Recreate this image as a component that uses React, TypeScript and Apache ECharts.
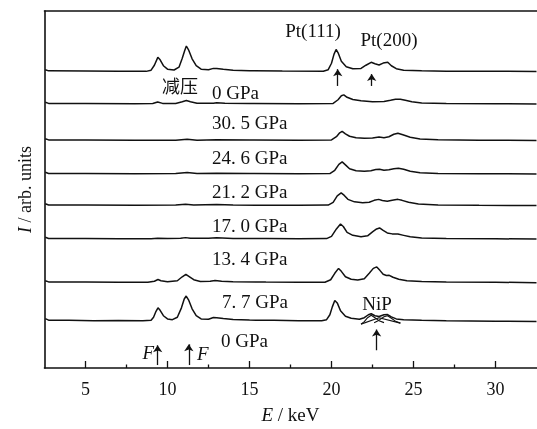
import React, { useEffect, useRef } from "react";
import * as echarts from "echarts";

// Energy (keV) axis ticks
const xTickValues = [5, 10, 15, 20, 25, 30];
const xMinorTickValues = [7.5, 12.5, 17.5, 22.5, 27.5];

// Vertical stacking offsets (arb. units) for each spectrum, bottom to top
const spectrumNames = ["0 GPa", "7.7 GPa", "13.4 GPa", "17.0 GPa", "21.2 GPa", "24.6 GPa", "30.5 GPa", "减压 0 GPa"];
const baselineOffsets = [4.8, 8.7, 13.1, 16.5, 19.7, 23.1, 26.8, 30.1];

// Spectra: [energy keV, intensity above baseline]
const spec0GPa = [
  [2.55, 0.2], [2.75, 0.05], [4, 0.05], [5.5, 0.0], [7, 0.02], [8.5, -0.02], [9.0, 0.05], [9.15, 0.35], [9.3, 0.95],
  [9.42, 1.3], [9.55, 1.05], [9.75, 0.5], [10.0, 0.18], [10.3, 0.1], [10.6, 0.35], [10.85, 1.3], [11.02, 2.2],
  [11.14, 2.5], [11.3, 2.05], [11.5, 1.2], [11.75, 0.5], [12.05, 0.18], [12.5, 0.15], [12.8, 0.32], [13.0, 0.3],
  [13.4, 0.22], [14, 0.12], [15, 0.06], [16.5, 0.03], [18, 0], [19.4, 0.0], [19.7, 0.1], [19.9, 0.6], [20.05, 1.4],
  [20.2, 2.05], [20.35, 1.8], [20.55, 1.0], [20.85, 0.45], [21.2, 0.25], [21.7, 0.15], [22.0, 0.3], [22.25, 0.6],
  [22.42, 0.7], [22.65, 0.5], [22.9, 0.42], [23.2, 0.6], [23.42, 0.62], [23.65, 0.38], [23.95, 0.18], [24.4, 0.1],
  [25.5, 0.05], [27, 0.0], [30, -0.05], [32.5, -0.08],
];
const spec7p7GPa = [
  [2.55, 0.15], [2.75, 0.03], [5, 0.02], [7, 0], [8.8, 0], [9.2, 0.1], [9.42, 0.27], [9.6, 0.15], [10, 0.05],
  [10.6, 0.15], [10.9, 0.55], [11.12, 0.8], [11.3, 0.6], [11.6, 0.25], [12, 0.08], [12.6, 0.1], [12.9, 0.18],
  [13.3, 0.1], [14, 0.05], [16, 0.02], [18, 0], [19.6, 0], [19.95, 0.25], [20.2, 0.9], [20.43, 1.4], [20.6, 1.1],
  [20.85, 0.55], [21.2, 0.3], [21.6, 0.22], [22.0, 0.35], [22.3, 0.9], [22.55, 1.4], [22.76, 1.55], [22.95, 1.2],
  [23.15, 0.8], [23.35, 0.68], [23.52, 0.7], [23.75, 0.5], [24.1, 0.3], [24.6, 0.15], [25.5, 0.06], [27, 0.02],
  [30, 0], [32.5, -0.05],
];
const spec13p4GPa = [
  [2.55, 0.15], [2.75, 0.03], [5, 0.02], [7, 0], [9, 0], [9.4, 0.05], [10, 0.02], [10.8, 0.05], [11.1, 0.12],
  [11.4, 0.05], [12.5, 0.05], [13, 0.1], [14, 0.04], [16, 0.02], [18, 0], [19.7, 0.02], [20.0, 0.25], [20.3, 1.0],
  [20.55, 1.5], [20.72, 1.25], [20.95, 0.65], [21.3, 0.35], [21.8, 0.22], [22.2, 0.3], [22.5, 0.7], [22.75, 1.0],
  [22.93, 1.1], [23.15, 0.85], [23.4, 0.6], [23.7, 0.5], [24.05, 0.48], [24.4, 0.35], [24.8, 0.2], [25.5, 0.08],
  [27, 0.02], [30, 0], [32.5, -0.02],
];
const spec17p0GPa = [
  [2.55, 0.15], [2.75, 0.03], [5, 0.02], [8, 0], [10.5, 0.02], [11.1, 0.1], [11.6, 0.02], [13, 0.08], [14, 0.02],
  [18, 0], [19.8, 0.02], [20.1, 0.3], [20.35, 0.95], [20.59, 1.25], [20.78, 1.0], [21.0, 0.6], [21.4, 0.35],
  [21.9, 0.25], [22.3, 0.3], [22.6, 0.5], [22.88, 0.6], [23.1, 0.48], [23.4, 0.4], [23.7, 0.5], [24.05, 0.6],
  [24.3, 0.5], [24.7, 0.3], [25.3, 0.12], [26.5, 0.04], [29, 0], [32.5, -0.02],
];
const spec21p2GPa = [
  [2.55, 0.15], [2.75, 0.03], [5, 0.02], [8, 0.0], [10.5, 0.02], [11.2, 0.12], [11.8, 0.03], [13, 0.05], [15, 0.02],
  [18, 0], [19.9, 0.02], [20.2, 0.35], [20.45, 0.95], [20.65, 1.2], [20.85, 0.9], [21.1, 0.5], [21.5, 0.3],
  [22.0, 0.25], [22.4, 0.3], [22.7, 0.42], [22.93, 0.45], [23.2, 0.35], [23.5, 0.4], [23.8, 0.5], [24.08, 0.55],
  [24.4, 0.45], [24.8, 0.25], [25.4, 0.1], [26.5, 0.03], [29, 0], [32.5, -0.02],
];
const spec24p6GPa = [
  [2.55, 0.15], [2.75, 0.03], [5, 0.02], [8, 0], [10.5, 0], [11.2, 0.1], [11.8, 0], [13, 0.04], [15, 0.02], [18, 0],
  [20.0, 0.03], [20.3, 0.35], [20.5, 0.75], [20.65, 0.9], [20.85, 0.65], [21.1, 0.4], [21.5, 0.25], [22.0, 0.2],
  [22.5, 0.22], [22.9, 0.32], [23.2, 0.25], [23.5, 0.35], [23.8, 0.6], [24.05, 0.7], [24.35, 0.55], [24.8, 0.3],
  [25.4, 0.12], [26.5, 0.04], [29, 0], [32.5, -0.02],
];
const spec30p5GPa = [
  [2.55, 0.15], [2.75, 0.03], [5, 0.02], [8, 0], [9.1, 0.02], [9.4, 0.18], [9.7, 0.03], [10.5, 0.02], [10.9, 0.2],
  [11.15, 0.32], [11.4, 0.2], [11.8, 0.05], [12.8, 0.05], [13.0, 0.1], [13.5, 0.05], [15, 0.02], [18, 0],
  [20.1, 0.03], [20.4, 0.4], [20.6, 0.8], [20.75, 0.9], [20.95, 0.65], [21.3, 0.42], [21.8, 0.3], [22.5, 0.2],
  [23.2, 0.22], [23.6, 0.35], [23.9, 0.45], [24.2, 0.45], [24.5, 0.35], [24.9, 0.2], [25.5, 0.08], [27, 0.02],
  [30, 0], [32.5, -0.02],
];
const specReleased = [
  [2.55, 0.15], [2.75, 0.03], [5, 0.02], [7, 0], [8.7, -0.02], [9.0, 0.1], [9.2, 0.6], [9.41, 1.4], [9.55, 1.15],
  [9.75, 0.55], [10.0, 0.2], [10.4, 0.12], [10.7, 0.4], [10.9, 1.3], [11.05, 2.1], [11.15, 2.55], [11.3, 2.1],
  [11.5, 1.25], [11.75, 0.55], [12.05, 0.2], [12.5, 0.15], [12.8, 0.28], [13.0, 0.28], [13.4, 0.2], [14, 0.1],
  [15, 0.05], [17, 0.02], [19.5, 0], [19.8, 0.15], [20.0, 0.8], [20.15, 1.7], [20.28, 2.2], [20.42, 1.8],
  [20.6, 1.0], [20.9, 0.45], [21.3, 0.25], [21.8, 0.28], [22.1, 0.6], [22.42, 0.9], [22.65, 0.75], [22.9, 0.62],
  [23.15, 0.82], [23.43, 0.9], [23.65, 0.55], [23.95, 0.25], [24.4, 0.1], [25.5, 0.04], [27, 0], [32.5, -0.03],
];
const spectra = [spec0GPa, spec7p7GPa, spec13p4GPa, spec17p0GPa, spec21p2GPa, spec24p6GPa, spec30p5GPa, specReleased];

// NiP peak fit components on the 0 GPa spectrum
const nipFitA = [[21.8, -0.35], [22.0, -0.1], [22.2, 0.3], [22.42, 0.55], [22.65, 0.3], [22.9, 0.0], [23.2, -0.2]];
const nipFitB = [[22.6, -0.2], [22.9, 0.05], [23.2, 0.4], [23.42, 0.5], [23.65, 0.25], [23.9, -0.05], [24.2, -0.25]];
const nipBackground = [[21.8, -0.35], [22.9, 0.3], [24.2, -0.25]];

// Arrow annotations: [energy, y start, y end]
const arrowMarks = [
  [9.4, 0.3, 2.3],
  [11.3, 0.3, 2.4],
  [22.75, 1.8, 3.9],
  [20.38, 28.6, 30.3],
  [22.45, 28.6, 29.8],
];

const SERIF = "'Liberation Serif', 'DejaVu Serif', serif";
const INK = "#111";

export default function App() {
  const ref = useRef<HTMLDivElement>(null);
  useEffect(() => {
    if (!ref.current) return;
    const chart = echarts.init(ref.current, null, { renderer: "svg" });
    const spectrumSeries = spectra.map((pts, i) => ({
      name: spectrumNames[i],
      type: "line",
      data: pts.map(([x, y]) => [x, y + baselineOffsets[i]]),
      showSymbol: false,
      symbol: "none",
      silent: true,
      lineStyle: { color: INK, width: 1.5 },
      z: 3,
    }));
    const fitSeries = [nipFitA, nipFitB, nipBackground].map((pts, i) => ({
      name: "fit" + i,
      type: "line",
      data: pts.map(([x, y]) => [x, y + baselineOffsets[0]]),
      showSymbol: false,
      symbol: "none",
      silent: true,
      lineStyle: { color: INK, width: 1.1 },
      z: 3,
    }));
    const arrowSeries = {
      name: "arrows",
      type: "line",
      data: [],
      silent: true,
      markLine: {
        silent: true,
        symbol: ["none", "arrow"],
        symbolSize: 7,
        label: { show: false },
        lineStyle: { color: INK, width: 1.3, type: "solid" },
        data: arrowMarks.map(([x, y0, y1]) => [{ coord: [x, y0] }, { coord: [x, y1] }]),
      },
    };
    const txt = (text: string, x: number, y: number, extra: any = {}) => ({
      type: "text",
      x,
      y,
      silent: true,
      style: {
        text,
        fill: INK,
        font: `19px ${SERIF}`,
        align: "left",
        verticalAlign: "middle",
        ...extra,
      },
    });
    chart.setOption({
      animation: false,
      grid: { left: 44.5, right: 0.5, top: 11, bottom: 56, containLabel: false },
      xAxis: [
        {
          type: "value",
          min: 2.5,
          max: 32.5,
          position: "bottom",
          axisLine: { show: true, lineStyle: { color: INK, width: 1.6 } },
          axisTick: { show: true, inside: true, length: 7, customValues: xTickValues, lineStyle: { color: INK, width: 1.3 } },
          axisLabel: { customValues: xTickValues, color: INK, fontSize: 18, fontFamily: SERIF, margin: 12 },
          splitLine: { show: false },
          name: "{i|E} / keV",
          nameLocation: "middle",
          nameGap: 37,
          nameTextStyle: {
            color: INK,
            fontSize: 19,
            fontFamily: SERIF,
            rich: { i: { fontStyle: "italic", fontSize: 19, fontFamily: SERIF, color: INK } },
          },
        },
        {
          type: "value",
          min: 2.5,
          max: 32.5,
          position: "bottom",
          axisLine: { show: false },
          axisTick: { show: true, inside: true, length: 3.5, customValues: xMinorTickValues, lineStyle: { color: INK, width: 1.3 } },
          axisLabel: { show: false },
          splitLine: { show: false },
        },
        {
          type: "value",
          min: 2.5,
          max: 32.5,
          position: "top",
          axisLine: { show: true, lineStyle: { color: INK, width: 1.6 } },
          axisTick: { show: false },
          axisLabel: { show: false },
          splitLine: { show: false },
        },
      ],
      yAxis: {
        type: "value",
        min: 0,
        max: 36.2,
        axisLine: { show: true, lineStyle: { color: INK, width: 1.6 } },
        axisTick: { show: false },
        axisLabel: { show: false },
        splitLine: { show: false },
        name: "{i|I} / arb. units",
        nameLocation: "middle",
        nameGap: 11,
        nameTextStyle: {
          color: INK,
          fontSize: 18,
          fontFamily: SERIF,
          rich: { i: { fontStyle: "italic", fontSize: 18, fontFamily: SERIF, color: INK } },
        },
      },
      series: [...spectrumSeries, ...fitSeries, arrowSeries],
      graphic: [
        txt("减压", 162, 85, { font: "18px 'Noto Sans CJK SC', sans-serif" }),
        txt("0 GPa", 212, 92),
        txt("30. 5 GPa", 212, 122),
        txt("24. 6 GPa", 212, 157),
        txt("21. 2 GPa", 212, 191),
        txt("17. 0 GPa", 212, 225),
        txt("13. 4 GPa", 212, 258),
        txt("7. 7 GPa", 222, 301),
        txt("0 GPa", 221, 340),
        txt("Pt(111)", 313, 30, { align: "center" }),
        txt("Pt(200)", 389, 39, { align: "center" }),
        txt("NiP", 377, 303, { align: "center" }),
        txt("F", 154, 352, { align: "right", font: `italic 19px ${SERIF}` }),
        txt("F", 197, 353, { font: `italic 19px ${SERIF}` }),
      ],
    });
    return () => chart.dispose();
  }, []);
  return <div ref={ref} style={{ position: "fixed", left: 0, top: 0, width: 537, height: 429 }} />;
}
